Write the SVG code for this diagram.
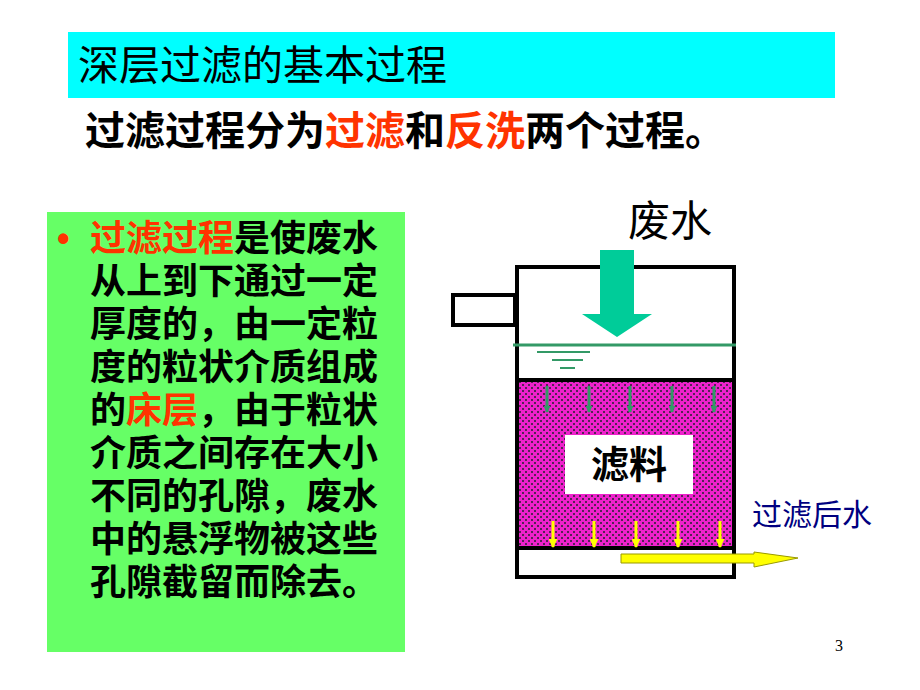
<svg xmlns="http://www.w3.org/2000/svg" width="920" height="690" viewBox="0 0 920 690">
<style>
.t{font-family:"Liberation Sans","Noto Sans CJK SC",sans-serif}
.b{font-weight:bold;font-size:36px;fill:#000}
.r{fill:#ff3300}
.k{fill:none;stroke:#000;stroke-width:4}
</style>
<defs>
<pattern id="pk" width="6" height="6" patternUnits="userSpaceOnUse">
<rect width="6" height="6" fill="#ee22cc"/>
<rect x="0" y="0" width="2" height="2" fill="#552255"/>
<rect x="3" y="3" width="2" height="2" fill="#552255"/>
</pattern>
<marker id="ga" markerWidth="7" markerHeight="7" refX="6" refY="3.5" orient="auto" markerUnits="userSpaceOnUse"><path d="M0,0 L7,3.5 L0,7Z" fill="#339966"/></marker>
<marker id="ya" markerWidth="9" markerHeight="9" refX="8" refY="4.5" orient="auto" markerUnits="userSpaceOnUse"><path d="M0,0 L9,4.5 L0,9Z" fill="#ffff00"/></marker>
</defs>
<rect width="920" height="690" fill="#fff"/>
<g id="title"><rect x="68" y="32" width="767" height="66" fill="#00ffff"/>
<text class="t" x="78" y="80" font-size="41">深层过滤的基本过程</text></g>
<g id="subtitle"><text class="t" x="85" y="145" font-size="40" font-weight="bold">过滤过程分为<tspan class="r">过滤</tspan>和<tspan class="r">反洗</tspan>两个过程。</text></g>
<g id="textbox"><rect x="47" y="212" width="358" height="440" fill="#66ff66"/>
<text class="t b" x="57" y="251" font-size="26"><tspan class="r">•</tspan></text>
<text class="t b" x="90" y="251"><tspan class="r">过滤过程</tspan>是使废水</text>
<text class="t b" x="90" y="294">从上到下通过一定</text>
<text class="t b" x="90" y="337">厚度的，由一定粒</text>
<text class="t b" x="90" y="380">度的粒状介质组成</text>
<text class="t b" x="90" y="423">的<tspan class="r">床层</tspan>，由于粒状</text>
<text class="t b" x="90" y="466">介质之间存在大小</text>
<text class="t b" x="90" y="509">不同的孔隙，废水</text>
<text class="t b" x="90" y="552">中的悬浮物被这些</text>
<text class="t b" x="90" y="595">孔隙截留而除去。</text></g>
<g id="filter">
<rect x="517" y="380" width="217" height="168" fill="url(#pk)"/>
<rect x="517" y="267" width="217" height="310" class="k"/>
<rect x="453" y="295" width="62" height="30" fill="#fff" stroke="#000" stroke-width="4"/>
<line x1="515" y1="380" x2="736" y2="380" stroke="#000" stroke-width="4"/>
<line x1="515" y1="548" x2="736" y2="548" stroke="#000" stroke-width="4"/>
<line x1="513" y1="345" x2="736" y2="345" stroke="#339966" stroke-width="3"/>
<g stroke="#339966" stroke-width="2"><line x1="537" y1="352" x2="590" y2="352"/><line x1="552" y1="360" x2="583" y2="360"/><line x1="560" y1="368" x2="575" y2="368"/></g>
<rect x="565" y="435" width="128" height="59" fill="#fff"/>
<text class="t" x="629" y="478" font-size="38" font-weight="bold" text-anchor="middle">滤料</text>
</g>
<g id="connectors">
<path d="M600,250 H634 V314 H652 L617,337 L582,314 H600Z" fill="#00cc99"/>
<g stroke="#339966" stroke-width="3" marker-end="url(#ga)">
<line x1="547" y1="386" x2="547" y2="412"/><line x1="589" y1="386" x2="589" y2="412"/><line x1="630" y1="386" x2="630" y2="412"/><line x1="672" y1="386" x2="672" y2="412"/><line x1="714" y1="386" x2="714" y2="412"/></g>
<g stroke="#ffff00" stroke-width="3" marker-end="url(#ya)">
<line x1="553" y1="521" x2="553" y2="547"/><line x1="594" y1="521" x2="594" y2="547"/><line x1="636" y1="521" x2="636" y2="547"/><line x1="678" y1="521" x2="678" y2="547"/><line x1="720" y1="521" x2="720" y2="547"/></g>
<path d="M621,554 H754 V552 L798,558 L754,567 V563 H621Z" fill="#ffff00" stroke="#999900" stroke-width="1"/>
</g>
<g id="labels">
<text class="t" x="628" y="236" font-size="42">废水</text>
<text class="t" x="752" y="525" font-size="30" fill="#000080">过滤后水</text>
<text x="835" y="651" font-family="Liberation Serif,serif" font-size="16">3</text>
</g>
</svg>
